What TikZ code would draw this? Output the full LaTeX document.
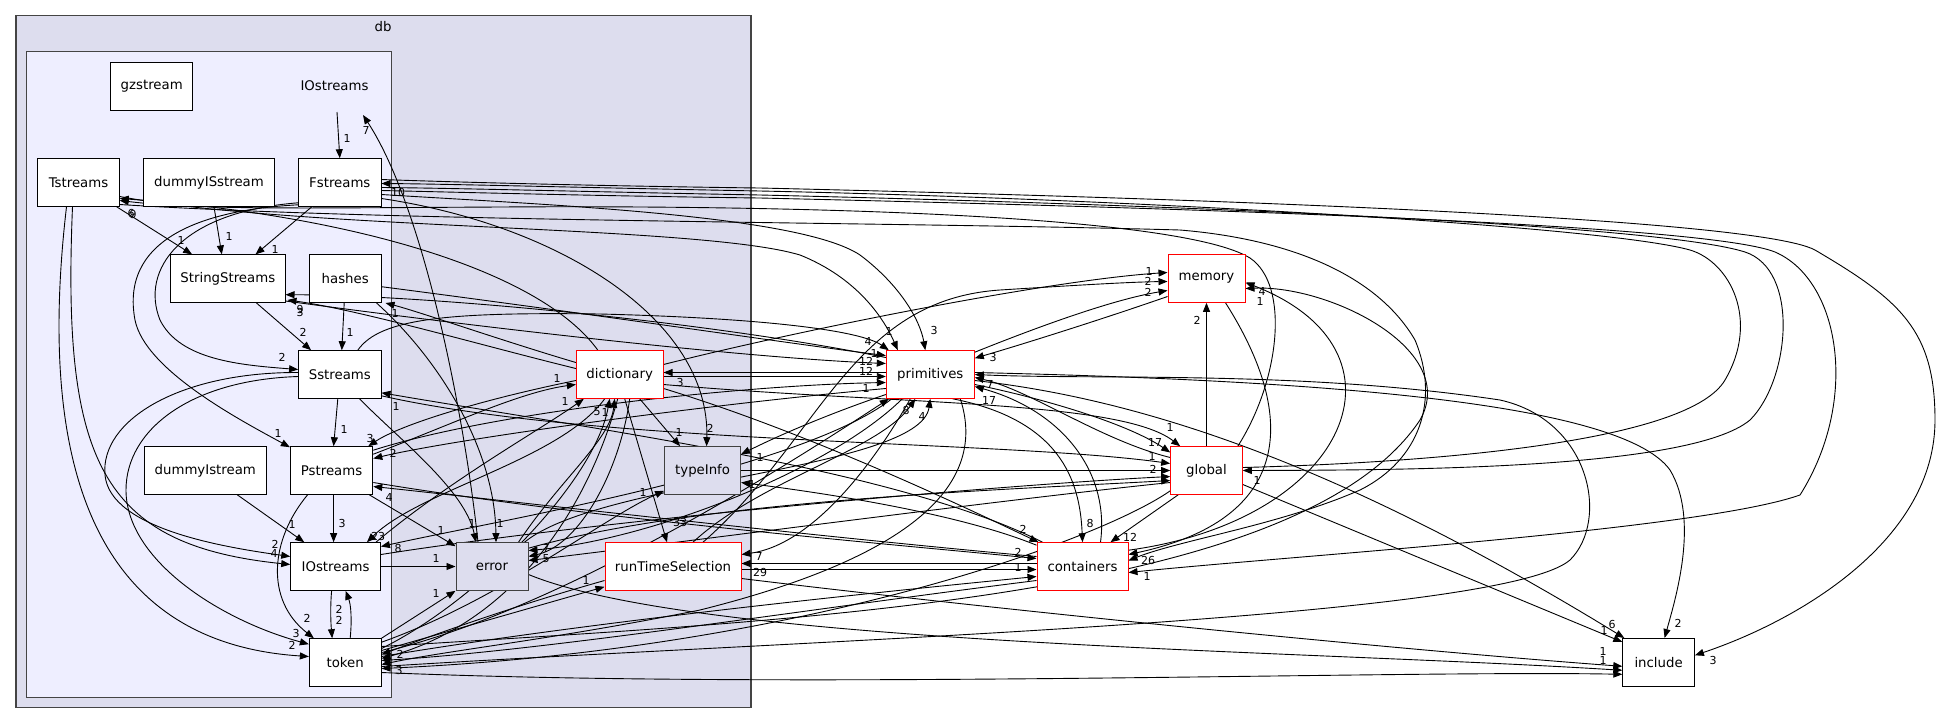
\documentclass[tikz,border=0pt]{standalone}
\usepackage{fontspec}
\usetikzlibrary{arrows.meta,calc}
\newfontfamily\dvs{DejaVu Sans}
\definecolor{dbfill}{HTML}{DDDDEE}
\definecolor{iofill}{HTML}{EEEEFF}
\definecolor{clb}{HTML}{444444}
\pgfdeclarelayer{bg}\pgfdeclarelayer{edges}\pgfsetlayers{bg,edges,main}
\tikzset{
 box/.style={draw=black, fill=white, line width=1pt, minimum height=47.6pt, inner sep=0pt, font=\dvs\fontsize{13.3}{15}\selectfont},
 rbox/.style={box, draw=red},
 gbox/.style={box, fill=dbfill, draw=black!75},
 e/.style={line width=0.9pt, -{Triangle[length=9pt,width=7pt]}},
 lab/.style={font=\dvs\fontsize{11}{12}\selectfont, inner sep=0pt},
}
\begin{document}
\begin{tikzpicture}[x=1pt,y=-1pt]
\useasboundingbox (0,0) rectangle (1941,724);
\begin{pgfonlayer}{bg}
\fill[white] (0,0) rectangle (1941,724);
\draw[line width=1.5pt, draw=clb, fill=dbfill] (16,15.7) rectangle (751,707.7);
\draw[line width=1.5pt, draw=clb, fill=iofill] (26.7,51.7) rectangle (391.7,697.3);
\end{pgfonlayer}
\node[font=\dvs\fontsize{13.3}{15}\selectfont] (dblab) at (383,27) {db};
\node[box, minimum width=82.5pt] (gz) at (151.7,86.3) {gzstream};
\node[font=\dvs\fontsize{13.3}{15}\selectfont] (iolab) at (334.5,86) {IOstreams};
\coordinate (ioc) at (337,112);
\node[box, minimum width=81.4pt] (Ts) at (78.5,182.5) {Tstreams};
\node[box, minimum width=131pt] (dIS) at (209,182.5) {dummyISstream};
\node[box, minimum width=82.4pt] (Fs) at (339.8,182.5) {Fstreams};
\node[box, minimum width=114.4pt] (SS) at (227.8,278.7) {StringStreams};
\node[box, minimum width=71.7pt] (ha) at (345.2,278.7) {hashes};
\node[rbox, minimum width=77pt] (mem) at (1206.5,278.5) {memory};
\node[box, minimum width=82.4pt] (Ss) at (339.8,374.5) {Sstreams};
\node[rbox, minimum width=86.7pt] (dic) at (619.7,374.5) {dictionary};
\node[rbox, minimum width=88pt] (pri) at (930.3,374.5) {primitives};
\node[box, minimum width=122.6pt] (dIs) at (205.3,470.5) {dummyIstream};
\node[box, minimum width=82.4pt] (Ps) at (331.6,470.5) {Pstreams};
\node[gbox, minimum width=76pt] (tI) at (702.6,470.5) {typeInfo};
\node[rbox, minimum width=71.6pt] (glo) at (1206.5,470.5) {global};
\node[box, minimum width=89.7pt] (IO) at (335.6,566.5) {IOstreams};
\node[gbox, minimum width=72pt] (err) at (492,566.5) {error};
\node[rbox, minimum width=136pt] (rTS) at (673,566.5) {runTimeSelection};
\node[rbox, minimum width=91pt] (con) at (1082.5,566.5) {containers};
\node[box, minimum width=71.7pt] (tok) at (345.2,662.5) {token};
\node[box, minimum width=71.6pt] (inc) at (1658.6,662.3) {include};
\begin{pgfonlayer}{edges}
% inside IOstreams
\draw[e] (ioc) -- (Fs.north) node[lab] at (347,138) {1};
\draw[e] ($(err.north)+(-14,0)$) .. controls (465,420) and (425,210) .. ($(ioc)+(26,3)$) node[lab] at (366,130) {7};
\draw[e] ($(Ts.south east)+(-3,0)$) -- ($(SS.north west)+(22,0)$) node[lab] at (181,240) {1};
\draw[e] ($(dIS.south)+(5,0)$) -- ($(SS.north)+(-6,0)$) node[lab] at (229,236) {1};
\draw[e] ($(Fs.south)+(-28,0)$) -- ($(SS.north east)+(-30,0)$) node[lab] at (275,249) {1};
\draw[e] ($(SS.south east)+(-29,0)$) -- ($(Ss.north west)+(13,0)$) node[lab] at (303,332) {2};
\draw[e] ($(ha.south)+(-1,0)$) -- ($(Ss.north)+(2,0)$) node[lab] at (350,332) {1};
\draw[e] ($(Ss.south)+(-2,0)$) -- ($(Ps.north)+(2,0)$) node[lab] at (344,429) {1};
\draw[e] ($(Ps.south)+(2,0)$) -- ($(IO.north)+(-2,0)$) node[lab] at (342,523) {3};
\draw[e] ($(dIs.south)+(32,0)$) -- ($(IO.north west)+(14,0)$) node[lab] at (292,524) {1};
\draw[e] ($(IO.south)+(-4,0)$) .. controls (330,610) and (331,625) .. ($(tok.north)+(-13,0)$) node[lab] at (339,620) {2};
\draw[e] ($(tok.north)+(5,0)$) .. controls (352,620) and (351,605) .. ($(IO.south)+(10,0)$) node[lab] at (339,609) {2};
\draw[e] ($(Ps.south)+(-24,0)$) .. controls (270,540) and (265,600) .. ($(tok.north west)+(5,0)$) node[lab] at (307,618) {2};
\draw[e] (IO.east) -- (err.west) node[lab] at (436,558) {1};
\draw[e] (tok.north east) -- (err.south west) node[lab] at (436,593) {1};
\draw[e] ($(Fs.south west)+(0,-2)$) .. controls (200,210) and (120,240) .. (135,320) .. controls (145,370) and (240,420) .. ($(Ps.north west)+(0,1)$) node[lab] at (278,433) {1};
\draw[e] ($(Fs.south west)+(0,-4)$) .. controls (180,212) and (140,270) .. (160,320) .. controls (180,360) and (240,365) .. ($(Ss.west)+(0,-5)$) node[lab] at (282,357) {2};
\draw[e] ($(Ss.west)+(0,-2)$) .. controls (180,372) and (100,420) .. (105,475) .. controls (110,530) and (230,548) .. ($(IO.west)+(0,-10)$) node[lab] at (275,544) {2};
\draw[e] ($(Ss.west)+(0,2)$) .. controls (190,380) and (126,430) .. (126,490) .. controls (126,560) and (220,620) .. ($(tok.north west)+(0,6)$) node[lab] at (296,633) {3};
\draw[e] ($(Ts.south)+(-6,0)$) .. controls (62,460) and (100,545) .. ($(IO.west)+(0,-2)$) node[lab] at (274,553) {4};
\draw[e] ($(Ts.south)+(-12,0)$) .. controls (30,520) and (130,645) .. ($(tok.west)+(0,-6)$) node[lab] at (292,645) {2};
% long edges over the top
\draw[e] ($(glo.east)+(0,-3)$) .. controls (1450,462) and (1690,440) .. (1725,380) .. controls (1760,320) and (1730,262) .. (1690,250) .. controls (1600,225) and (1100,198) .. (760,191) .. controls (600,188) and (450,184) .. ($(Fs.east)+(0,1)$) node[lab] at (398,192) {10};
\draw[e] ($(Fs.east)+(0,5)$) .. controls (450,188) and (600,192) .. (760,195) .. controls (1100,203) and (1650,222) .. (1745,252) .. controls (1800,270) and (1790,380) .. (1750,420) .. controls (1690,470) and (1400,470) .. (glo.east) node[lab] at (1257,480) {1};
\draw[e] ($(Fs.east)+(0,8)$) .. controls (450,192) and (600,196) .. (760,198) .. controls (1100,206) and (1700,222) .. (1775,252) .. controls (1840,280) and (1860,400) .. (1800,495) .. controls (1700,530) and (1300,555) .. ($(con.east)+(0,6)$) node[lab] at (1147,576) {1};
\draw[e] ($(Fs.east)+(0,-3)$) .. controls (450,182) and (600,186) .. (760,188) .. controls (1100,196) and (1750,215) .. (1815,250) .. controls (1900,300) and (1935,330) .. (1935,420) .. controls (1935,540) and (1800,620) .. ($(inc.east)+(0,-7)$) node[lab] at (1713,660) {3};
\draw[e] ($(glo.north east)+(-5,0)$) .. controls (1280,380) and (1290,285) .. (1250,258) .. controls (1180,215) and (800,205) .. (500,207) .. controls (300,208) and (200,210) .. ($(Ts.east)+(0,18)$) node[lab] at (133,214) {9};
\draw[e] ($(Ts.east)+(0,22)$) .. controls (400,222) and (900,222) .. (1180,230) .. controls (1300,240) and (1380,280) .. (1415,340) .. controls (1440,400) and (1420,460) .. (1360,490) .. controls (1280,525) and (1180,540) .. ($(con.east)+(0,-6)$) node[lab] at (1148,560) {26};
\draw[e] ($(Ts.east)+(0,14)$) .. controls (300,230) and (700,225) .. (800,255) .. controls (850,275) and (880,310) .. ($(pri.north west)+(12,0)$) node[lab] at (889,331) {1};
\draw[e] ($(Fs.east)+(0,12)$) .. controls (550,205) and (800,215) .. (860,255) .. controls (900,285) and (920,320) .. ($(pri.north)+(-5,0)$) node[lab] at (934,330) {3};
\draw[e] ($(dic.north west)+(22,0)$) .. controls (540,270) and (350,215) .. ($(Ts.east)+(0,16)$) node[lab] at (131,213) {6};
% middle
\draw[e] ($(dic.west)+(0,-12)$) .. controls (500,340) and (420,312) .. ($(ha.south east)+(4,0)$) node[lab] at (395,313) {1};
\draw[e] ($(dic.west)+(0,-6)$) .. controls (480,345) and (360,310) .. ($(SS.south east)+(2,-3)$) node[lab] at (300,312) {3};
\draw[e] ($(pri.west)+(0,-17)$) .. controls (700,320) and (420,295) .. ($(SS.east)+(0,16)$) node[lab] at (300,309) {9};
\draw[e] ($(SS.south east)+(0,-2)$) .. controls (500,330) and (750,358) .. ($(pri.west)+(0,-11)$) node[lab] at (866,361) {12};
\draw[e] ($(ha.east)+(0,8)$) .. controls (600,315) and (800,345) .. ($(pri.west)+(0,-19)$) node[lab] at (874,353) {1};
\draw[e] ($(Ss.north)+(18,0)$) .. controls (380,318) and (450,312) .. (600,314) .. controls (760,318) and (860,330) .. ($(pri.north west)+(3,0)$) node[lab] at (868,341) {4};
\draw[e] ($(dic.east)+(0,2)$) -- ($(pri.west)+(0,2)$) node[lab] at (866,371) {12};
\draw[e] ($(pri.west)+(0,-2)$) -- ($(dic.east)+(0,-2)$) node[lab] at (680,382) {3};
\draw[e] ($(Ps.north east)+(0,4)$) .. controls (500,410) and (750,385) .. ($(pri.west)+(0,8)$) node[lab] at (866,388) {1};
\draw[e] ($(dic.west)+(0,6)$) .. controls (480,400) and (400,425) .. ($(Ps.north east)+(-5,0)$) node[lab] at (370,438) {3};
\draw[e] ($(Ps.north east)+(0,8)$) .. controls (450,425) and (520,392) .. ($(dic.west)+(0,10)$) node[lab] at (557,378) {1};
\draw[e] ($(IO.north east)+(-5,0)$) .. controls (450,480) and (540,430) .. ($(dic.south west)+(8,0)$) node[lab] at (565,401) {1};
\draw[e] ($(dic.south)+(-15,0)$) .. controls (560,460) and (420,490) .. ($(IO.north east)+(-14,0)$) node[lab] at (378,536) {23};
\draw[e] ($(pri.south west)+(6,0)$) .. controls (800,470) and (500,520) .. ($(IO.east)+(0,-20)$) node[lab] at (398,548) {8};
\draw[e] ($(pri.west)+(0,14)$) .. controls (700,405) and (450,440) .. ($(Ps.east)+(0,-12)$) node[lab] at (393,453) {2};
% error
\draw[e] ($(Ps.south east)+(-4,0)$) -- ($(err.north west)+(0,4)$) node[lab] at (441,530) {1};
\draw[e] ($(Ss.south east)+(-22,0)$) .. controls (400,440) and (465,490) .. ($(err.north)+(-16,0)$) node[lab] at (472,523) {1};
\draw[e] ($(ha.south east)+(-5,0)$) .. controls (440,360) and (495,450) .. ($(err.north)+(4,0)$) node[lab] at (500,523) {1};
\draw[e] ($(err.north east)+(-4,0)$) .. controls (600,480) and (920,470) .. (pri.south) node[lab] at (922,416) {4};
\draw[e] ($(rTS.north)+(20,0)$) .. controls (760,480) and (880,450) .. ($(pri.south)+(-15,0)$) node[lab] at (906,410) {8};
\draw[e] ($(pri.south)+(-28,0)$) .. controls (830,470) and (650,540) .. ($(err.east)+(0,-16)$) node[lab] at (546,548) {7};
\draw[e] ($(dic.south)+(10,0)$) .. controls (620,470) and (580,545) .. ($(err.east)+(0,-10)$);
\draw[e] ($(glo.west)+(0,12)$) .. controls (1000,500) and (700,540) .. ($(err.east)+(0,-6)$) node[lab] at (546,559) {5};
% typeInfo
\draw[e] ($(dic.south)+(20,0)$) -- ($(tI.north west)+(16,0)$) node[lab] at (679,432) {1};
\draw[e] ($(dic.south)+(5,0)$) -- ($(rTS.north)+(-6,0)$) node[lab] at (680,522) {33};
\draw[e] ($(Fs.east)+(0,16)$) .. controls (560,225) and (710,320) .. ($(tI.north)+(4,0)$) node[lab] at (710,428) {2};
\draw[e] (tI.east) -- (glo.west) node[lab] at (1153,469) {2};
\draw[e] ($(pri.west)+(0,20)$) .. controls (840,410) and (790,430) .. ($(tI.north east)+(0,8)$) node[lab] at (760,457) {1};
\draw[e] ($(con.north west)+(0,3)$) .. controls (950,510) and (800,490) .. ($(tI.east)+(0,12)$) node[lab] at (752,484) {1};
% global
\draw[e] ($(dic.east)+(0,10)$) .. controls (900,405) and (1120,400) .. ($(glo.north west)+(10,0)$) node[lab] at (1170,427) {1};
\draw[e] ($(pri.east)+(0,10)$) .. controls (1050,400) and (1130,425) .. ($(glo.west)+(0,-18)$) node[lab] at (1155,442) {17};
\draw[e] ($(glo.west)+(0,-13)$) .. controls (1100,440) and (1030,390) .. ($(pri.east)+(0,3)$) node[lab] at (990,384) {7};
\draw[e] ($(Ss.south east)+(0,-3)$) .. controls (600,445) and (1000,440) .. ($(glo.west)+(0,-7)$) node[lab] at (1152,456) {1};
\draw[e] ($(IO.east)+(0,-12)$) .. controls (600,520) and (1000,485) .. ($(glo.west)+(0,6)$);
\draw[e] ($(err.north east)+(0,6)$) .. controls (700,500) and (1000,490) .. ($(glo.west)+(0,10)$);
\draw[e] (glo.north) -- (mem.south) node[lab] at (1197,320) {2};
\draw[e] ($(glo.south west)+(8,0)$) -- ($(con.north east)+(-18,0)$) node[lab] at (1130,537) {12};
\draw[e] ($(glo.east)+(0,14)$) -- ($(inc.north west)+(0,4)$) node[lab] at (1604,630) {1};
\draw[e] ($(con.north west)+(6,0)$) .. controls (900,470) and (600,430) .. ($(Ss.south east)+(0,-6)$) node[lab] at (396,406) {1};
% containers
\draw[e] ($(pri.south east)+(-22,0)$) .. controls (1060,420) and (1080,480) .. (con.north) node[lab] at (1090,523) {8};
\draw[e] ($(con.north east)+(-28,0)$) .. controls (1110,470) and (1060,410) .. ($(pri.east)+(0,12)$) node[lab] at (989,400) {17};
\draw[e] ($(dic.east)+(0,14)$) .. controls (800,430) and (950,500) .. ($(con.north west)+(2,0)$) node[lab] at (1023,529) {2};
\draw[e] ($(rTS.east)+(0,3)$) -- ($(con.west)+(0,3)$) node[lab] at (1018,567) {1};
\draw[e] ($(con.west)+(0,-3)$) -- ($(rTS.east)+(0,-3)$) node[lab] at (760,572) {29};
\draw[e] ($(pri.south)+(-20,0)$) .. controls (870,470) and (810,545) .. ($(rTS.east)+(0,-12)$) node[lab] at (759,556) {7};
\draw[e] ($(Ps.east)+(0,12)$) .. controls (600,520) and (900,545) .. ($(con.west)+(0,-8)$) node[lab] at (1018,552) {2};
\draw[e] ($(con.west)+(0,-10)$) .. controls (800,535) and (500,500) .. ($(Ps.east)+(0,16)$) node[lab] at (389,497) {4};
\draw[e] ($(tok.east)+(0,-6)$) .. controls (600,620) and (900,590) .. ($(con.west)+(0,10)$);
\draw[e] ($(con.west)+(0,14)$) .. controls (800,610) and (550,650) .. ($(tok.east)+(0,-2)$) node[lab] at (400,654) {2};
% token
\draw[e] ($(tok.north east)+(0,4)$) .. controls (500,600) and (600,520) .. ($(tI.south west)+(0,-4)$) node[lab] at (643,492) {1};
\draw[e] ($(tok.east)+(0,-12)$) -- ($(rTS.south west)+(0,-4)$) node[lab] at (586,580) {1};
\draw[e] ($(rTS.west)+(0,14)$) .. controls (500,610) and (420,640) .. ($(tok.east)+(0,-8)$);
\draw[e] ($(tok.east)+(0,-14)$) .. controls (480,600) and (595,480) .. ($(dic.south)+(-10,0)$) node[lab] at (597,412) {5};
\draw[e] ($(err.north east)+(-10,0)$) .. controls (560,480) and (610,440) .. ($(dic.south)+(-5,0)$) node[lab] at (605,412) {1};
\draw[e] ($(dic.south)+(-2,0)$) .. controls (590,500) and (520,620) .. ($(tok.east)+(0,-4)$);
\draw[e] ($(glo.south west)+(0,-4)$) .. controls (1100,540) and (800,650) .. ($(tok.east)+(0,6)$) node[lab] at (399,670) {3};
\draw[e] ($(pri.south)+(30,0)$) .. controls (990,490) and (900,560) .. (700,610) .. controls (550,640) and (450,650) .. ($(tok.east)+(0,2)$);
\draw[e] ($(tok.east)+(0,-10)$) .. controls (560,610) and (780,470) .. ($(pri.south west)+(3,0)$);
\draw[e] ($(tok.east)+(0,10)$) .. controls (800,690) and (1400,670) .. ($(inc.west)+(0,12)$) node[lab] at (1603,660) {1};
\draw[e] ($(rTS.east)+(0,12)$) .. controls (1000,610) and (1400,650) .. ($(inc.west)+(0,4)$) node[lab] at (1603,651) {1};
\draw[e] ($(err.east)+(0,8)$) .. controls (700,645) and (1300,650) .. ($(inc.west)+(0,8)$);
\draw[e] ($(pri.east)+(0,6)$) .. controls (1150,400) and (1350,470) .. ($(inc.north west)+(2,0)$) node[lab] at (1612,624) {6};
\draw[e] ($(pri.east)+(0,-2)$) .. controls (1300,380) and (1620,400) .. (1670,470) .. controls (1700,520) and (1675,600) .. ($(inc.north)+(6,0)$) node[lab] at (1678,623) {2};
\draw[e] ($(tok.east)+(0,4)$) .. controls (800,640) and (1500,620) .. (1570,560) .. controls (1610,520) and (1590,420) .. (1500,400) .. controls (1300,370) and (1100,380) .. ($(pri.east)+(0,0)$);
% memory
\draw[e] ($(mem.west)+(0,18)$) .. controls (1100,320) and (1020,345) .. ($(pri.north east)+(0,8)$) node[lab] at (993,357) {3};
\draw[e] ($(pri.north east)+(0,2)$) .. controls (1030,330) and (1110,300) .. ($(mem.west)+(0,12)$) node[lab] at (1148,292) {2};
\draw[e] ($(dic.east)+(0,-10)$) .. controls (800,330) and (1050,280) .. ($(mem.west)+(0,-6)$) node[lab] at (1149,271) {1};
\draw[e] ($(rTS.north)+(30,0)$) .. controls (820,440) and (850,300) .. (1000,290) .. controls (1080,285) and (1130,282) .. ($(mem.west)+(0,3)$) node[lab] at (1148,281) {2};
\draw[e] ($(con.north east)+(0,8)$) .. controls (1350,520) and (1420,350) .. ($(mem.east)+(0,4)$) node[lab] at (1262,291) {4};
\draw[e] ($(tok.east)+(0,-16)$) .. controls (800,620) and (1300,600) .. (1420,420) .. controls (1460,350) and (1330,285) .. ($(mem.east)+(0,10)$) node[lab] at (1260,301) {1};
\draw[e] ($(mem.south east)+(-20,0)$) .. controls (1300,420) and (1290,520) .. ($(con.east)+(0,-12)$);
\end{pgfonlayer}
\end{tikzpicture}
\end{document}
